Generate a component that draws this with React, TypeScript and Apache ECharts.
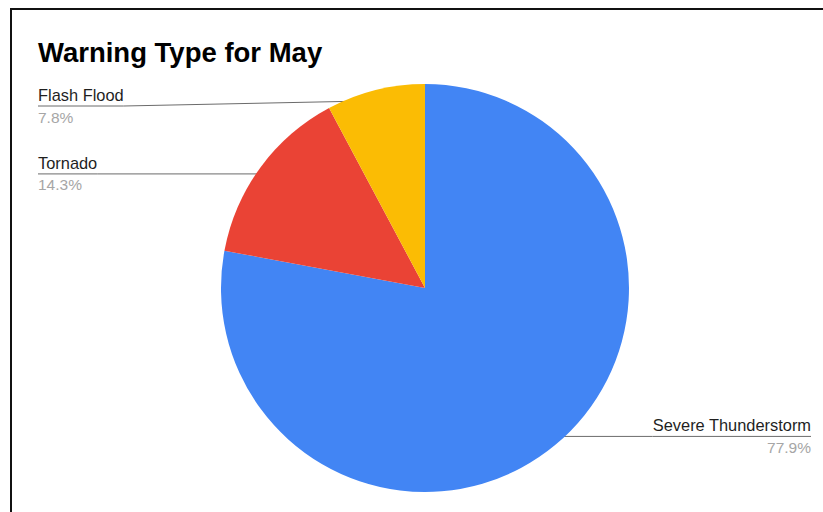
import React, { useEffect, useRef } from "react";
import * as echarts from "echarts";

const categories = ["Severe Thunderstorm", "Tornado", "Flash Flood"];
const counts = [60, 11, 6];
const colors = ["#4285F4", "#EA4335", "#FBBC04"];
const title = "Warning Type for May";

export default function App() {
  const ref = useRef<HTMLDivElement>(null);
  useEffect(() => {
    if (!ref.current) return;
    const chart = echarts.init(ref.current, null, { renderer: "svg" });
    const cx = 425;
    const cy = 288;
    const R = 204;
    const anchorR = 193;
    chart.setOption({
      animation: false,
      backgroundColor: "#ffffff",
      title: {
        text: title,
        left: 38,
        top: 38,
        padding: 0,
        textStyle: {
          fontFamily: "'Liberation Sans', Arial, sans-serif",
          fontSize: 27.5,
          fontWeight: "bold",
          color: "#000000",
        },
      },
      series: [
        {
          type: "pie",
          center: [cx, cy],
          radius: R,
          startAngle: 90,
          clockwise: true,
          avoidLabelOverlap: false,
          itemStyle: { borderWidth: 0 },
          data: categories.map((c, i) => ({
            name: c,
            value: counts[i],
            itemStyle: { color: colors[i] },
          })),
          label: {
            show: true,
            position: "outside",
            fontFamily: "'Liberation Sans', Arial, sans-serif",
            formatter: (p: any) =>
              `{n|${p.name}}\n{p|${Number(p.percent).toFixed(1)}%}`,
            rich: {
              n: {
                fontSize: 16.4,
                color: "#1f1f1f",
                lineHeight: 22,
                fontFamily: "'Liberation Sans', Arial, sans-serif",
              },
              p: {
                fontSize: 15.5,
                color: "#a6a6a6",
                lineHeight: 22,
                fontFamily: "'Liberation Sans', Arial, sans-serif",
              },
            },
          },
          labelLine: {
            show: true,
            length: 10,
            length2: 10,
            lineStyle: { color: "#6b6b6b", width: 1 },
          },
          labelLayout: (params: any) => {
            const pts = params.labelLinePoints;
            if (!pts) return {};
            const p0 = pts[0];
            const dx = p0[0] - cx;
            const dy = p0[1] - cy;
            const d = Math.hypot(dx, dy) || 1;
            const ax = cx + (dx / d) * anchorR;
            const ay = cy + (dy / d) * anchorR;
            const isLeft = dx < 0;
            const lineY = Math.max(ay, 106);
            const lx = isLeft ? 38 : 811;
            const w = params.labelRect.width;
            return {
              x: lx,
              y: lineY,
              align: isLeft ? "left" : "right",
              verticalAlign: "middle",
              labelLinePoints: [
                [ax, ay],
                [isLeft ? lx + w : lx - w, lineY],
                [lx, lineY],
              ],
            };
          },
        },
      ],
    });
    return () => chart.dispose();
  }, []);
  return (
    <div
      style={{
        position: "fixed",
        left: 0,
        top: 0,
        width: 823,
        height: 512,
        background: "#fff",
      }}
    >
      <div ref={ref} style={{ position: "absolute", left: 0, top: 0, width: 823, height: 512 }} />
      <div
        style={{
          position: "absolute",
          left: 10,
          top: 8,
          right: 0,
          bottom: 0,
          borderLeft: "2px solid #111",
          borderTop: "2px solid #111",
          pointerEvents: "none",
        }}
      />
    </div>
  );
}
